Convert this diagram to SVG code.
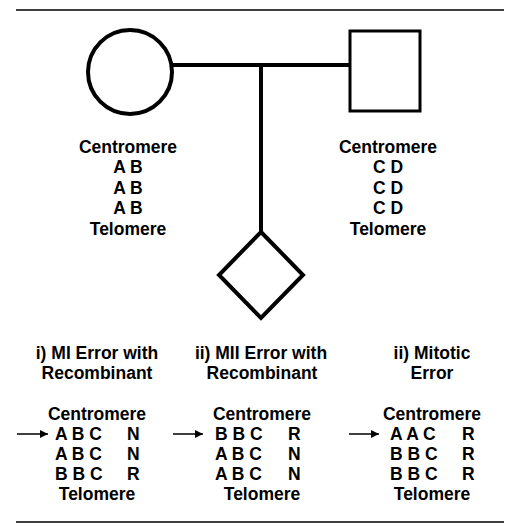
<svg xmlns="http://www.w3.org/2000/svg" width="514" height="531" viewBox="0 0 514 531">
<defs>
<style>
text{font-family:"Liberation Sans",Arial,sans-serif;font-weight:bold;font-size:17.5px;fill:#000}
.c{text-anchor:middle}
.sym{fill:#fff;stroke:#000;stroke-width:4}
.rule{stroke:#000;stroke-width:1.5}
.arr{stroke:#000;stroke-width:1.5;fill:none}
</style>
<marker id="ah" viewBox="0 0 10 10" refX="10" refY="5" markerWidth="10" markerHeight="8" markerUnits="userSpaceOnUse" orient="auto">
<path d="M0,0 L10,5 L0,10 z" fill="#000"/>
</marker>
</defs>
<rect width="514" height="531" fill="#fff"/>
<line class="rule" x1="16" y1="10" x2="504" y2="10"/>
<line class="rule" x1="16" y1="522" x2="504" y2="522"/>
<g id="connectors">
<line x1="172" y1="65" x2="350" y2="65" stroke="#000" stroke-width="4"/>
<line x1="261" y1="65" x2="261" y2="232" stroke="#000" stroke-width="4"/>
<line class="arr" x1="17" y1="434" x2="48" y2="434" marker-end="url(#ah)"/>
<line class="arr" x1="173" y1="434" x2="203" y2="434" marker-end="url(#ah)"/>
<line class="arr" x1="349" y1="434" x2="379" y2="434" marker-end="url(#ah)"/>
</g>
<g id="mother">
<circle class="sym" cx="130" cy="72" r="42"/>
<text class="c" x="128" y="153">Centromere</text>
<text class="c" x="128" y="173">A B</text>
<text class="c" x="128" y="194">A B</text>
<text class="c" x="128" y="214">A B</text>
<text class="c" x="128" y="235">Telomere</text>
</g>
<g id="father">
<rect x="350" y="31" width="70" height="80" fill="#fff" stroke="#000" stroke-width="3"/>
<text class="c" x="388" y="153">Centromere</text>
<text class="c" x="388" y="173">C D</text>
<text class="c" x="388" y="194">C D</text>
<text class="c" x="388" y="214">C D</text>
<text class="c" x="388" y="235">Telomere</text>
</g>
<g id="child">
<polygon class="sym" points="261,232 303,275 261,318 219,275"/>
</g>
<g id="case1">
<text class="c" x="97" y="359">i) MI Error with</text>
<text class="c" x="97" y="379">Recombinant</text>
<text class="c" x="97" y="420">Centromere</text>
<text x="55" y="440">A B C</text><text x="127" y="440">N</text>
<text x="55" y="460">A B C</text><text x="127" y="460">N</text>
<text x="55" y="480">B B C</text><text x="127" y="480">R</text>
<text class="c" x="97" y="500">Telomere</text>
</g>
<g id="case2">
<text class="c" x="261" y="359">ii) MII Error with</text>
<text class="c" x="262" y="379">Recombinant</text>
<text class="c" x="262" y="420">Centromere</text>
<text x="215" y="440">B B C</text><text x="288" y="440">R</text>
<text x="215" y="460">A B C</text><text x="288" y="460">N</text>
<text x="215" y="480">A B C</text><text x="288" y="480">N</text>
<text class="c" x="262" y="500">Telomere</text>
</g>
<g id="case3">
<text class="c" x="432" y="359">ii) Mitotic</text>
<text class="c" x="432" y="379">Error</text>
<text class="c" x="432" y="420">Centromere</text>
<text x="390" y="440">A A C</text><text x="462" y="440">R</text>
<text x="390" y="460">B B C</text><text x="462" y="460">R</text>
<text x="390" y="480">B B C</text><text x="462" y="480">R</text>
<text class="c" x="432" y="500">Telomere</text>
</g>
</svg>
